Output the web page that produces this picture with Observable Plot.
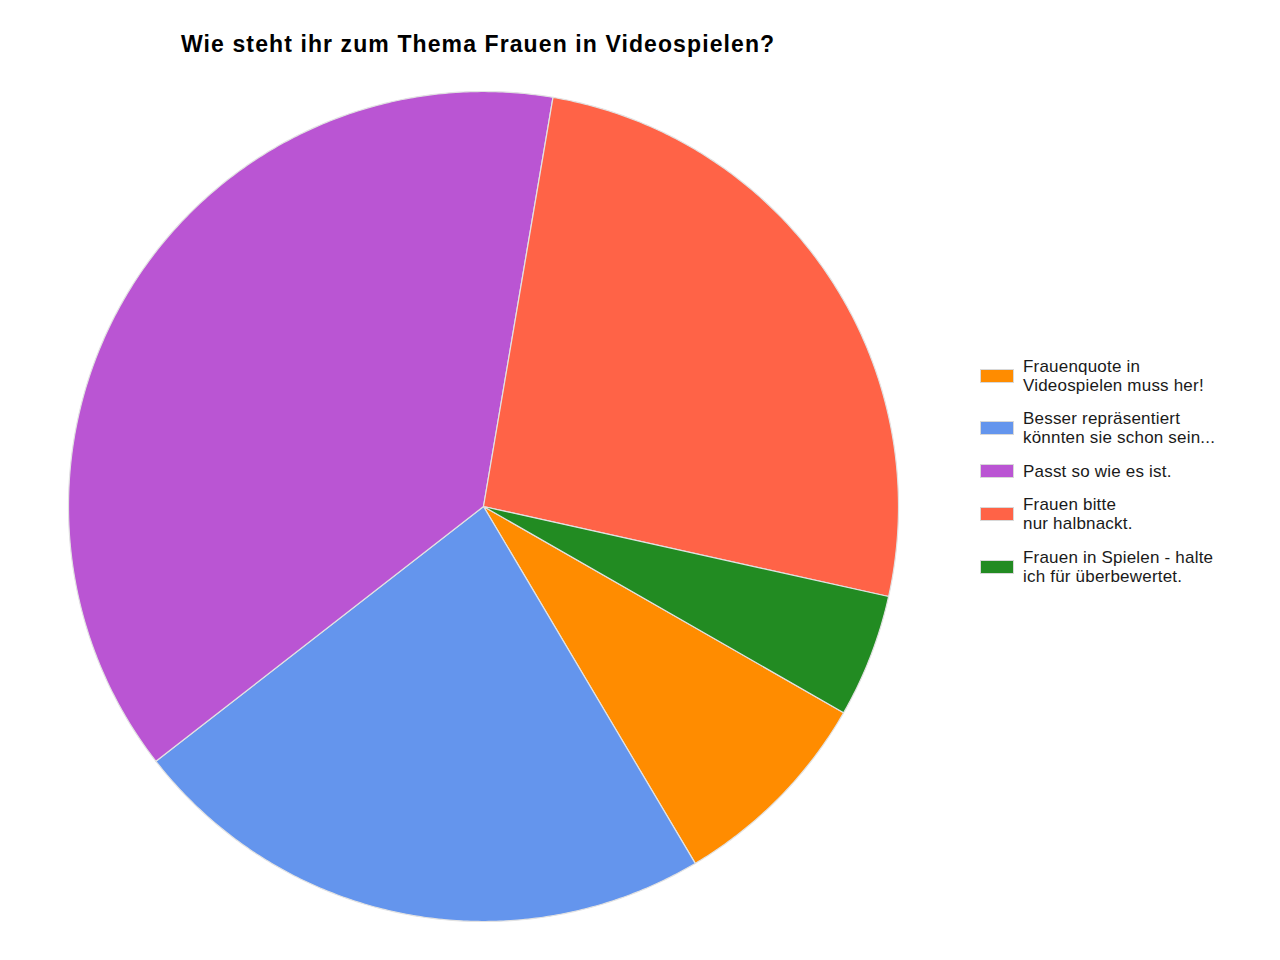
<!DOCTYPE html>
<html>
<head>
<meta charset="utf-8">
<script src="https://cdn.jsdelivr.net/npm/d3@7"></script>
<script src="https://cdn.jsdelivr.net/npm/@observablehq/plot@0.6"></script>
<style>
  html, body { margin: 0; padding: 0; background: #fff; }
  #wrap { position: relative; width: 1280px; height: 960px; font-family: "Liberation Sans", Arial, sans-serif; }
  #title { position: absolute; left: 181px; top: 30px; font-size: 23px; letter-spacing: 1.1px; line-height: 28px; font-weight: bold; color: #000; white-space: nowrap; }
  #chart { position: absolute; left: 0; top: 80px; }
  #legend { position: absolute; left: 980px; top: 0; width: 290px; }
  .sw { position: absolute; left: 0; width: 32px; height: 12px; border: 1px solid #d8d8d8; }
  .lab { position: absolute; left: 43px; font-size: 17px; letter-spacing: 0.2px; line-height: 19px; color: #1a1a1a; white-space: nowrap; }
</style>
</head>
<body>
<div id="wrap">
  <div id="title">Wie steht ihr zum Thema Frauen in Videospielen?</div>
  <div id="chart"></div>
  <div id="legend"></div>
</div>
<script>
// Data (percent shares), in legend order, clockwise
const categories = [
  "Frauenquote in Videospielen muss her!",
  "Besser repräsentiert könnten sie schon sein...",
  "Passt so wie es ist.",
  "Frauen bitte nur halbnackt.",
  "Frauen in Spielen - halte ich für überbewertet."
];
const legendLines = [
  ["Frauenquote in", "Videospielen muss her!"],
  ["Besser repräsentiert", "könnten sie schon sein..."],
  ["Passt so wie es ist."],
  ["Frauen bitte", "nur halbnackt."],
  ["Frauen in Spielen - halte", "ich für überbewertet."]
];
const values = [8.2, 23.0, 38.2, 25.8, 4.8];
const colors = ["#ff8c00", "#6495ed", "#ba55d3", "#ff6347", "#228b22"];
const startAngleDeg = 119.8; // clockwise from 12 o'clock

// Build slice outlines from the data via d3.pie
const pie = d3.pie().sort(null).value(d => d.value)
  .startAngle(startAngleDeg * Math.PI / 180)
  .endAngle(startAngleDeg * Math.PI / 180 + 2 * Math.PI);
const arcs = pie(categories.map((c, i) => ({cat: c, value: values[i]})));
const pts = [];
arcs.forEach(a => {
  const cat = a.data.cat;
  pts.push({cat, x: 0, y: 0});
  const n = Math.max(2, Math.ceil((a.endAngle - a.startAngle) / (Math.PI / 360)));
  for (let k = 0; k <= n; k++) {
    const t = a.startAngle + (a.endAngle - a.startAngle) * k / n;
    pts.push({cat, x: Math.sin(t), y: Math.cos(t)});
  }
  pts.push({cat, x: 0, y: 0});
});

const cx = 483, cy = 426, r = 415;
const plot = Plot.plot({
  width: 1280,
  height: 880,
  margin: 0,
  x: {domain: [-1, 1], range: [cx - r, cx + r], axis: null},
  y: {domain: [-1, 1], range: [cy + r, cy - r], axis: null},
  color: {domain: categories, range: colors},
  marks: [
    Plot.line(pts, {x: "x", y: "y", z: "cat", fill: "cat", stroke: "#e2e2e2", strokeWidth: 1.2, curve: "linear"})
  ]
});
document.getElementById("chart").appendChild(plot);

// Legend
const legend = document.getElementById("legend");
const swatchCenters = [376, 428, 471, 514, 567];
legendLines.forEach((lines, i) => {
  const sc = swatchCenters[i];
  const sw = document.createElement("div");
  sw.className = "sw";
  sw.style.top = (sc - 7) + "px";
  sw.style.background = colors[i];
  legend.appendChild(sw);
  const lab = document.createElement("div");
  lab.className = "lab";
  const h = lines.length * 19;
  lab.style.top = (sc - h / 2) + "px";
  lab.innerHTML = lines.join("<br>");
  legend.appendChild(lab);
});
</script>
</body>
</html>
